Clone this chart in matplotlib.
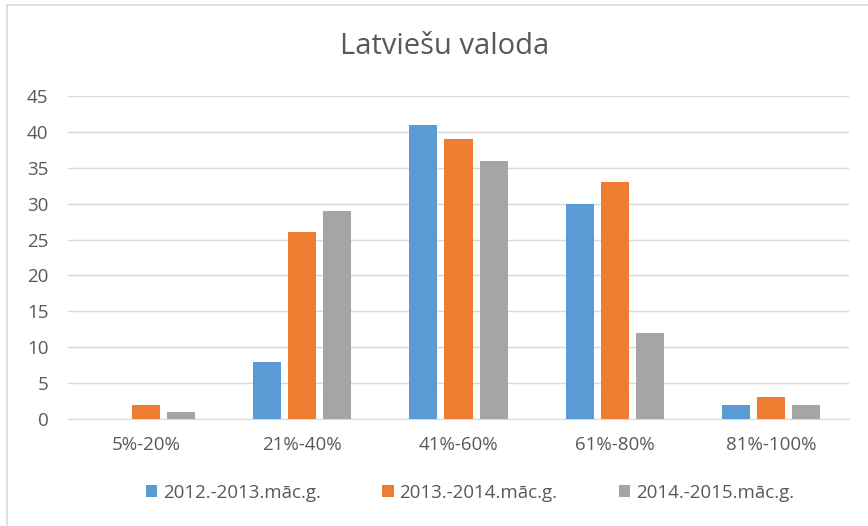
import numpy as np
import matplotlib.pyplot as plt
from matplotlib.patches import Rectangle

categories = ['5%-20%', '21%-40%', '41%-60%', '61%-80%', '81%-100%']
series_names = ['2012.-2013.māc.g.', '2013.-2014.māc.g.', '2014.-2015.māc.g.']
vals_2012 = [0, 8, 41, 30, 2]
vals_2013 = [2, 26, 39, 33, 3]
vals_2014 = [1, 29, 36, 12, 2]
colors = ['#5b9bd5', '#ed7d31', '#a5a5a5']

plt.rcParams['font.family'] = ['Open Sans', 'DejaVu Sans']
txt = '#595959'

W, H = 868, 526
fig = plt.figure(figsize=(W / 100, H / 100), dpi=100)
ax = fig.add_axes([68 / W, 1 - 419 / H, (849 - 68) / W, (419 - 96) / H])

# chart frame
fig.patches.append(Rectangle((7 / W, -0.1), 1.1, 1 - 5 / H + 0.1, transform=fig.transFigure,
                             fill=False, edgecolor='#d9d9d9', linewidth=1.2))

x = np.arange(len(categories))
bw = 28 / 156
step = 35 / 156
for i, (vals, name) in enumerate(zip([vals_2012, vals_2013, vals_2014], series_names)):
    ax.bar(x + (i - 1) * step, vals, width=bw, color=colors[i], label=name, zorder=3)

ax.set_xlim(-0.5, len(categories) - 0.5)
ax.set_ylim(0, 45)
ax.set_yticks(range(0, 46, 5))
ax.set_xticks(x)
ax.set_xticklabels(categories)
ax.grid(axis='y', color='#d9d9d9', linewidth=1, zorder=0)
for s in ['top', 'right', 'left']:
    ax.spines[s].set_visible(False)
ax.spines['bottom'].set_color('#d9d9d9')
ax.tick_params(axis='both', length=0, colors=txt, labelsize=13.5)
ax.tick_params(axis='x', pad=12)
ax.tick_params(axis='y', pad=14)

fig.text(0.5 * (67 + 848) / W - 0.015, 1 - 47 / H, 'Latviešu valoda', ha='center', va='center',
         fontsize=21, color=txt)

leg = fig.legend(loc='center', bbox_to_anchor=(470 / W, 1 - 493 / H), ncol=3, frameon=False,
                 fontsize=13.5, handlelength=0.6, handleheight=0.6, handletextpad=0.3,
                 columnspacing=3.3, labelcolor=txt)

fig.savefig('out.png', dpi=100)
